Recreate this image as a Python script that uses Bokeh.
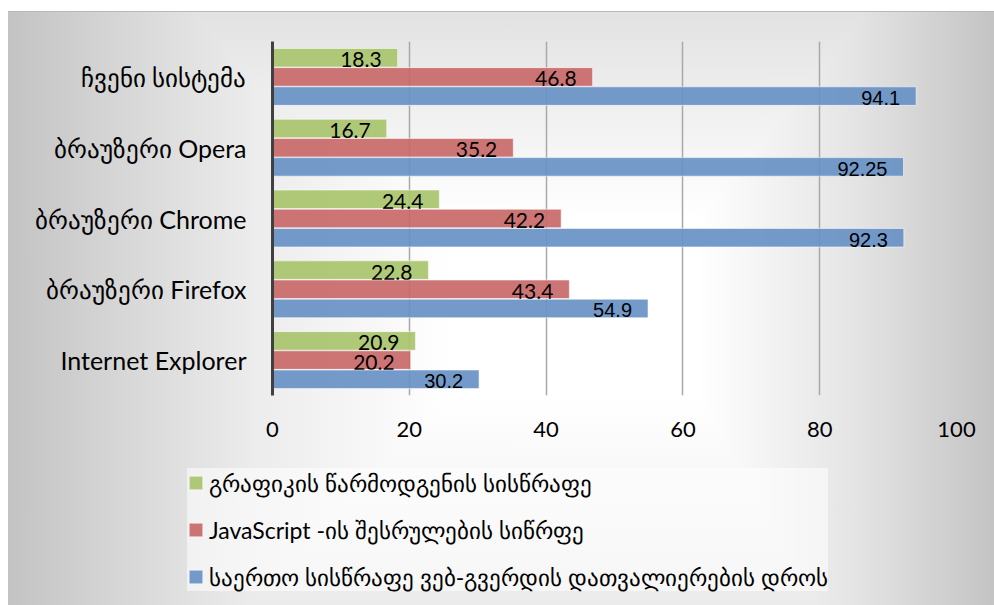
from bokeh.plotting import figure
from bokeh.layouts import column
from bokeh.models import ColumnDataSource, FactorRange, Range1d, FixedTicker, Legend, LegendItem
from bokeh.transform import dodge
from bokeh.core.properties import value
from bokeh.embed import file_html
from bokeh.resources import INLINE

# ---- data ----
categories = ["ჩვენი სისტემა", "ბრაუზერი Opera", "ბრაუზერი Chrome", "ბრაუზერი Firefox", "Internet Explorer"]
graphics_speed = [18.3, 16.7, 24.4, 22.8, 20.9]
js_speed = [46.8, 35.2, 42.2, 43.4, 20.2]
total_speed = [94.1, 92.25, 92.3, 54.9, 30.2]
series_names = [
    "გრაფიკის წარმოდგენის სისწრაფე",
    "JavaScript -ის შესრულების სიწრფე",
    "საერთო სისწრაფე ვებ-გვერდის დათვალიერების დროს",
]
x_ticks = [0, 20, 40, 60, 80, 100]

source = ColumnDataSource(dict(
    cat=categories,
    g=graphics_speed, r=js_speed, b=total_speed,
    g_lbl=[str(v) for v in graphics_speed],
    r_lbl=[str(v) for v in js_speed],
    b_lbl=[str(v) for v in total_speed],
))

FONT = "Lato"
W = 986
H_TOP, H_LEG = 445, 149

p = figure(
    width=W, height=H_TOP,
    y_range=FactorRange(factors=categories[::-1], range_padding=0, factor_padding=0),
    x_range=Range1d(0, 100),
    output_backend="svg", toolbar_location=None,
    min_border_left=264, min_border_right=38, min_border_top=30, min_border_bottom=61,
)
p.background_fill_color = None
p.border_fill_color = None
p.outline_line_color = None

colors = ["#A8C46E", "#C96868", "#6891C5"]
offsets = [0.271, 0.0, -0.271]
cols = ["g", "r", "b"]
lbls = ["g_lbl", "r_lbl", "b_lbl"]
lbl_fonts = [FONT, FONT, "Liberation Sans"]
lbl_sizes = ["21px", "21px", "20px"]

for col, lbl, off, c, lf, ls in zip(cols, lbls, offsets, colors, lbl_fonts, lbl_sizes):
    p.hbar(y=dodge("cat", off, range=p.y_range), right=col, left=0, height=0.262,
           source=source, fill_color=c, fill_alpha=0.92,
           line_color="white", line_alpha=0.55, line_width=1)
    p.text(x=col, y=dodge("cat", off, range=p.y_range), text=lbl, source=source,
           x_offset=-16, y_offset=2, text_align="right", text_baseline="middle",
           text_font=value(lf), text_font_size=ls, text_color="black")

# grid
p.ygrid.grid_line_color = None
p.xgrid.grid_line_color = "#a8a8a8"
p.xgrid.grid_line_width = 1.5
p.xgrid.ticker = FixedTicker(ticks=x_ticks)

# axes
p.xaxis.ticker = FixedTicker(ticks=x_ticks)
p.xaxis.axis_line_color = None
p.xaxis.major_tick_line_color = None
p.xaxis.minor_tick_line_color = None
p.xaxis.major_label_text_font = FONT
p.xaxis.major_label_text_font_size = "22px"
p.xaxis.major_label_text_color = "black"
p.xaxis.major_label_standoff = 20

p.yaxis.axis_line_color = "#404040"
p.yaxis.axis_line_width = 3
p.yaxis.major_tick_line_color = None
p.yaxis.minor_tick_line_color = None
p.yaxis.major_label_text_font = FONT
p.yaxis.major_label_text_font_size = "25px"
p.yaxis.major_label_text_color = "black"
p.yaxis.major_label_standoff = 20

# ---- legend panel ----
p2 = figure(
    width=W, height=H_LEG, x_range=Range1d(0, 1), y_range=Range1d(0, 1),
    output_backend="svg", toolbar_location=None,
    x_axis_location=None, y_axis_location=None,
    min_border=0, min_border_left=0, min_border_right=0, min_border_top=0, min_border_bottom=0,
)
p2.background_fill_color = None
p2.border_fill_color = None
p2.outline_line_color = None
p2.grid.grid_line_color = None
p2.styles = {"position": "relative", "left": "-85px"}

leg_renderers = []
for col, c in zip(cols, colors):
    # zero-size bars (left == right, height 0): only used to style the legend swatches
    r = p2.hbar(y=col, right=col, left=col, height=0, source=source,
                fill_color=c, fill_alpha=0.92,
                line_color="white", line_alpha=0.55, line_width=1)
    leg_renderers.append(r)

legend = Legend(
    items=[LegendItem(label=n, renderers=[r]) for n, r in zip(series_names, leg_renderers)],
    location=(0, 14),
    orientation="vertical",
    background_fill_color="white", background_fill_alpha=0.55,
    border_line_color=None,
    padding=8, spacing=18, label_height=29,
    glyph_width=17, glyph_height=17, label_standoff=5,
    label_text_font=FONT, label_text_font_size="23px", label_text_color="black",
)
p2.add_layout(legend, "center")

layout = column(p, p2, spacing=0)
layout.styles = {
    "margin-left": "8px",
    "margin-top": "11px",
    "width": "986px",
    "height": "594px",
    "background-image": (
        "linear-gradient(to right, #c3c3c3 0%, #d4d4d4 10%, #ececec 25%, #ffffff 45%, "
        "#ffffff 70%, #e4e4e4 86%, #c4c4c4 100%), "
        "linear-gradient(to bottom, #e2e2e2 0%, #ffffff 35%, #ffffff 65%, #ebebeb 100%)"
    ),
    "background-blend-mode": "darken",
    "box-shadow": "inset 0 1px 0 #b8b8b8",
}

open("out.html", "w").write(file_html(layout, INLINE))
